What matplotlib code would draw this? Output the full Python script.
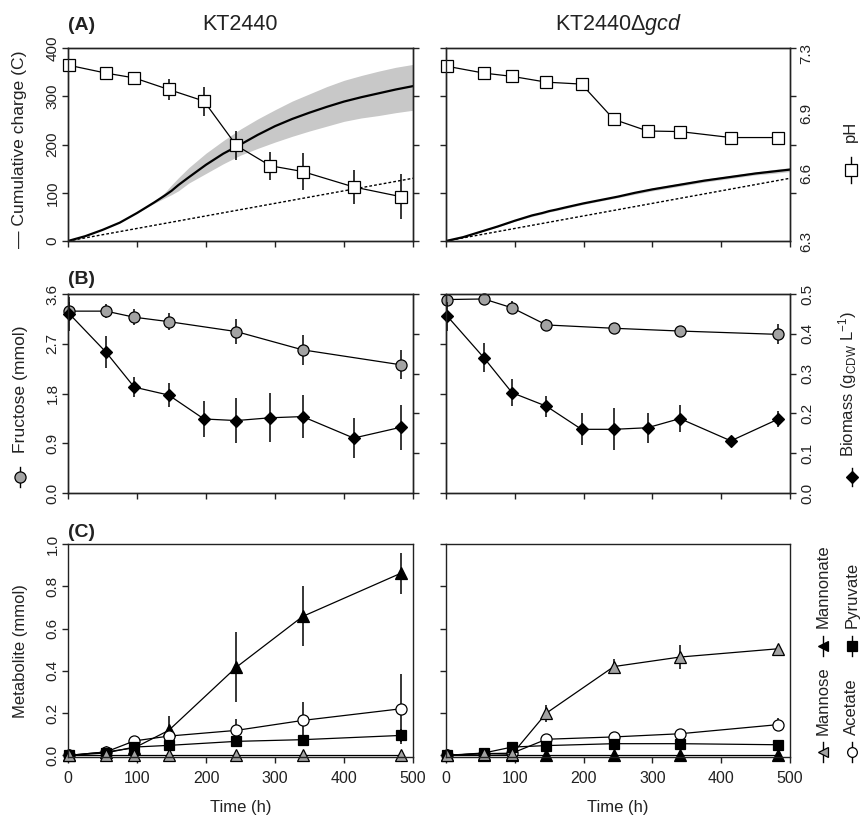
import numpy as np
import matplotlib.pyplot as plt

plt.rcParams['font.family'] = ['Liberation Sans', 'DejaVu Sans']
plt.rcParams['mathtext.fontset'] = 'custom'
plt.rcParams['mathtext.rm'] = 'Liberation Sans'
plt.rcParams['mathtext.it'] = 'Liberation Sans:italic'

# --- datos ---
# carga acumulada (C), curva continua con banda de desviacion
t_charge = [0, 25, 50, 75, 100, 125, 140, 150, 160, 175, 200, 225, 250, 275,
            300, 325, 350, 375, 400, 425, 450, 475, 500]
charge_wt = [0, 10, 23, 38, 58, 80, 94, 104, 116, 132, 158, 181, 200, 220,
             238, 253, 266, 278, 289, 298, 306, 314, 321]
charge_wt_hi = [0, 10, 23, 38, 58, 82, 100, 116, 131, 152, 182, 208, 232, 253,
                272, 290, 305, 320, 333, 343, 352, 360, 366]
charge_wt_lo = [0, 10, 23, 38, 58, 78, 89, 96, 104, 120, 140, 160, 178, 192,
                205, 217, 228, 238, 248, 255, 260, 266, 271]
charge_gcd = [0, 8, 19, 30, 42, 53, 58, 62, 65, 70, 78, 85, 92, 100,
              107, 113, 119, 125, 130, 135, 140, 144, 148]
charge_gcd_hi = [0, 8, 19, 31, 43, 55, 60, 64, 67, 72, 80, 87, 94, 102,
                 110, 116, 122, 128, 133, 138, 143, 148, 152]
charge_gcd_lo = [0, 8, 19, 29, 41, 51, 56, 60, 63, 68, 76, 83, 90, 97,
                 104, 110, 116, 122, 127, 132, 137, 140, 144]
t_abiotic = [0, 500]
abiotic = [0, 130]

# pH y biomasa (10 muestras)
t_ph = [2, 55, 96, 146, 197, 244, 293, 340, 414, 482]
ph_wt = [7.21, 7.17, 7.145, 7.085, 7.025, 6.795, 6.69, 6.66, 6.58, 6.53]
ph_wt_err = [0.01, 0.01, 0.01, 0.055, 0.075, 0.077, 0.072, 0.097, 0.09, 0.115]
ph_gcd = [7.205, 7.17, 7.153, 7.123, 7.113, 6.93, 6.87, 6.867, 6.836, 6.836]
ph_gcd_err = [0.025, 0.02, 0.02, 0.015, 0.015, 0.02, 0.01, 0.01, 0.01, 0.01]
ph_ticks = ['6.3', '6.6', '6.9', '7.3']
ph_tick_pos = [6.3, 6.65, 6.96, 7.27]

bio_wt = [0.45, 0.354, 0.266, 0.246, 0.186, 0.182, 0.189, 0.192, 0.138, 0.165]
bio_wt_err = [0.042, 0.04, 0.025, 0.03, 0.046, 0.057, 0.062, 0.054, 0.051, 0.057]
bio_gcd = [0.444, 0.340, 0.252, 0.218, 0.160, 0.160, 0.164, 0.187, 0.131, 0.185]
bio_gcd_err = [0.036, 0.036, 0.034, 0.026, 0.04, 0.053, 0.038, 0.033, 0.004, 0.02]

# fructosa y metabolitos (7 muestras)
t_met = [2, 55, 96, 146, 244, 340, 482]
frc_wt = [3.29, 3.29, 3.18, 3.10, 2.92, 2.59, 2.32]
frc_wt_err = [0.17, 0.13, 0.14, 0.16, 0.23, 0.27, 0.26]
frc_gcd = [3.50, 3.51, 3.35, 3.04, 2.98, 2.93, 2.87]
frc_gcd_err = [0.03, 0.03, 0.12, 0.11, 0.06, 0.04, 0.18]

mannonate_wt = [0, 0.016, 0.035, 0.118, 0.417, 0.657, 0.861]
mannonate_wt_err = [0, 0.01, 0, 0.07, 0.165, 0.142, 0.098]
acetate_wt = [0, 0.016, 0.068, 0.091, 0.118, 0.165, 0.22]
acetate_wt_err = [0, 0, 0, 0.02, 0.055, 0.087, 0.165]
pyruvate_wt = [0, 0.011, 0.039, 0.047, 0.066, 0.074, 0.094]
pyruvate_wt_err = [0, 0, 0, 0, 0.01, 0.01, 0.03]
mannose_wt = [0, 0, 0, 0, 0, 0, 0]
mannose_wt_err = [0, 0, 0, 0, 0, 0, 0]

mannonate_gcd = [0, 0, 0, 0, 0, 0, 0]
mannonate_gcd_err = [0, 0, 0, 0, 0, 0, 0]
acetate_gcd = [0, 0.008, 0.01, 0.076, 0.087, 0.102, 0.145]
acetate_gcd_err = [0, 0, 0, 0, 0, 0.01, 0.03]
pyruvate_gcd = [0, 0.011, 0.039, 0.046, 0.055, 0.055, 0.05]
pyruvate_gcd_err = [0, 0, 0, 0, 0, 0, 0]
mannose_gcd = [0, 0.008, 0.005, 0.20, 0.42, 0.465, 0.504]
mannose_gcd_err = [0, 0, 0, 0.04, 0.035, 0.055, 0.02]

GRIS = '#a3a3a3'
BANDA = '#c8c8c8'
W, H = 860, 819

fig = plt.figure(figsize=(W / 100, H / 100), dpi=100)


def nuevo_eje(x0, x1, y0, y1):
    return fig.add_axes([x0 / W, 1 - y1 / H, (x1 - x0) / W, (y1 - y0) / H])


def estilo(ax):
    for s in ax.spines.values():
        s.set_linewidth(1.0)
        s.set_color('#222222')
    ax.tick_params(direction='out', length=4, width=1, colors='#222222',
                   labelcolor='#222222', labelsize=11, pad=3.5)
    ax.tick_params(axis='y', labelrotation=90, pad=2)


def girar(ax):
    plt.setp(ax.get_yticklabels(), va='center')


def serie(ax, x, y, e, **kw):
    ax.errorbar(x, y, yerr=e, color='k', lw=0.9, elinewidth=1.1, capsize=0,
                mec='k', mew=0.9, clip_on=False, **kw)


def etiqueta(ax, x, y, texto, size=12):
    ax.text(x, y, texto, transform=ax.transAxes, rotation=90, rotation_mode='anchor',
            ha='left', va='center', fontsize=size, color='#222222')


def clave(ax, x, y, half, **mk):
    ax.plot([x, x], [y - half, y + half], color='k', lw=1, transform=ax.transAxes, clip_on=False)
    ax.plot([x], [y], ls='none', mec='k', mew=0.9, transform=ax.transAxes, clip_on=False, **mk)


cols = [(68, 413), (446, 790)]
rows = [(48, 241), (294, 493), (544, 757)]

datos_a = [(charge_wt, charge_wt_lo, charge_wt_hi, ph_wt, ph_wt_err),
           (charge_gcd, charge_gcd_lo, charge_gcd_hi, ph_gcd, ph_gcd_err)]
datos_b = [(frc_wt, frc_wt_err, bio_wt, bio_wt_err),
           (frc_gcd, frc_gcd_err, bio_gcd, bio_gcd_err)]
datos_c = [(mannonate_wt, mannonate_wt_err, acetate_wt, acetate_wt_err,
            pyruvate_wt, pyruvate_wt_err, mannose_wt, mannose_wt_err),
           (mannonate_gcd, mannonate_gcd_err, acetate_gcd, acetate_gcd_err,
            pyruvate_gcd, pyruvate_gcd_err, mannose_gcd, mannose_gcd_err)]

for i, (x0, x1) in enumerate(cols):
    izq = i == 0

    # (A) carga acumulada + pH
    c, lo, hi, ph, ph_e = datos_a[i]
    ax = nuevo_eje(x0, x1, *rows[0])
    ax.fill_between(t_charge, lo, hi, color=BANDA, lw=0)
    ax.plot(t_charge, c, color='k', lw=1.6)
    ax.plot(t_abiotic, abiotic, color='k', lw=1, ls=(0, (2, 1.5)))
    ax.set_xlim(0, 500)
    ax.set_ylim(0, 400)
    ax.set_xticks(range(0, 501, 100))
    ax.set_yticks(range(0, 401, 100))
    estilo(ax)
    ax.tick_params(labelbottom=False, labelleft=izq)
    girar(ax)
    axr = ax.twinx()
    serie(axr, t_ph, ph, ph_e, marker='s', ms=8, mfc='white')
    axr.set_ylim(6.3, 7.3)
    estilo(axr)
    if izq:
        axr.set_yticks(np.linspace(6.3, 7.3, 5))
        axr.tick_params(labelright=False)
        ax.text(0, 1.114, '(A)', transform=ax.transAxes, fontsize=14, fontweight='bold',
                ha='left', va='center', color='#222222')
        ax.text(0.5, 1.124, 'KT2440', transform=ax.transAxes, fontsize=15.5,
                ha='center', va='center', color='#222222')
        etiqueta(ax, -0.142, -0.036, '— Cumulative charge (C)', 12.6)
    else:
        axr.set_yticks(ph_tick_pos, labels=ph_ticks)
        axr.set_yticks(np.linspace(6.3, 7.3, 5), minor=True)
        axr.tick_params(which='major', length=0, pad=6.5)
        axr.tick_params(which='minor', direction='out', length=4, width=1, colors='#222222')
        girar(axr)
        ax.text(0.5, 1.124, r'KT2440Δ$\mathit{gcd}$', transform=ax.transAxes, fontsize=15.5,
                ha='center', va='center', color='#222222')
        etiqueta(axr, 1.177, 0.513, 'pH')
        clave(axr, 1.177, 0.368, 0.067, marker='s', ms=8, mfc='white')

    # (B) fructosa + biomasa
    f, f_e, b, b_e = datos_b[i]
    ax = nuevo_eje(x0, x1, *rows[1])
    serie(ax, t_met, f, f_e, marker='o', ms=8, mfc=GRIS)
    ax.set_xlim(0, 500)
    ax.set_ylim(0, 3.6)
    ax.set_xticks(range(0, 501, 100))
    ax.set_yticks([0, 0.9, 1.8, 2.7, 3.6], labels=['0.0', '0.9', '1.8', '2.7', '3.6'])
    estilo(ax)
    ax.tick_params(labelbottom=False, labelleft=izq)
    girar(ax)
    axr = ax.twinx()
    serie(axr, t_ph, b, b_e, marker='D', ms=6, mfc='k')
    axr.set_ylim(0, 0.5)
    axr.set_yticks(np.arange(0, 0.51, 0.1), labels=['0.0', '0.1', '0.2', '0.3', '0.4', '0.5'])
    estilo(axr)
    axr.tick_params(labelright=not izq, pad=3.5)
    girar(axr)
    if izq:
        ax.text(0, 1.075, '(B)', transform=ax.transAxes, fontsize=14, fontweight='bold',
                ha='left', va='center', color='#222222')
        etiqueta(ax, -0.139, 0.201, 'Fructose (mmol)', 12.6)
        clave(ax, -0.139, 0.08, 0.05, marker='o', ms=8, mfc=GRIS)
    else:
        etiqueta(axr, 1.168, 0.181, r'Biomass (g$_{\mathrm{CDW}}$ L$^{-1}$)')
        clave(axr, 1.18, 0.08, 0.047, marker='D', ms=6, mfc='k')

    # (C) metabolitos
    mo, mo_e, ac, ac_e, py, py_e, ma, ma_e = datos_c[i]
    ax = nuevo_eje(x0, x1, *rows[2])
    serie(ax, t_met, mo, mo_e, marker='^', ms=8, mfc='k')
    serie(ax, t_met, ac, ac_e, marker='o', ms=8, mfc='white')
    serie(ax, t_met, py, py_e, marker='s', ms=7, mfc='k')
    serie(ax, t_met, ma, ma_e, marker='^', ms=8, mfc=GRIS)
    ax.set_xlim(0, 500)
    ax.set_ylim(-0.008, 1.0)
    ax.set_xticks(range(0, 501, 100))
    ax.set_yticks(np.arange(0, 1.01, 0.2), labels=['0.0', '0.2', '0.4', '0.6', '0.8', '1.0'])
    estilo(ax)
    ax.tick_params(axis='x', labelsize=11.5, pad=6)
    ax.tick_params(labelleft=izq)
    girar(ax)
    ax.set_xlabel('Time (h)', fontsize=12, color='#222222')
    ax.xaxis.set_label_coords(0.5, -0.239)
    ax.xaxis.label.set_va('center')
    if izq:
        ax.text(0, 1.056, '(C)', transform=ax.transAxes, fontsize=14, fontweight='bold',
                ha='left', va='center', color='#222222')
        etiqueta(ax, -0.139, 0.183, 'Metabolite (mmol)')
    else:
        etiqueta(ax, 1.096, 0.103, 'Mannose')
        clave(ax, 1.096, 0.023, 0.047, marker='<', ms=7, mfc=GRIS)
        etiqueta(ax, 1.096, 0.606, 'Mannonate')
        clave(ax, 1.096, 0.521, 0.047, marker='<', ms=7, mfc='k')
        etiqueta(ax, 1.180, 0.103, 'Acetate')
        clave(ax, 1.180, 0.023, 0.047, marker='o', ms=7, mfc='white')
        etiqueta(ax, 1.180, 0.606, 'Pyruvate')
        clave(ax, 1.180, 0.521, 0.047, marker='s', ms=7, mfc='k')

fig.savefig('out.png', dpi=100)
